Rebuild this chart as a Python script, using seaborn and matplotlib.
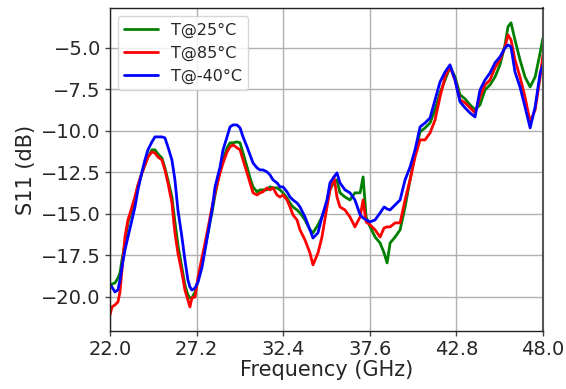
import numpy as np
import pandas as pd
import matplotlib
matplotlib.use("Agg")
import matplotlib.pyplot as plt
import seaborn as sns

freq = [22.00, 22.12, 22.30, 22.48, 22.60, 22.72, 22.90, 23.08, 23.32, 23.50,
        23.68, 23.92, 24.10, 24.28, 24.52, 24.70, 24.88, 25.12, 25.30, 25.48,
        25.72, 25.90, 26.08, 26.32, 26.50, 26.68, 26.80, 26.92, 27.11, 27.29,
        27.53, 27.71, 27.89, 28.13, 28.31, 28.61, 28.79, 29.03, 29.21, 29.39,
        29.63, 29.81, 29.99, 30.23, 30.41, 30.59, 30.83, 31.01, 31.19, 31.43,
        31.61, 31.79, 32.03, 32.21, 32.39, 32.63, 32.81, 32.99, 33.23, 33.41,
        33.71, 34.01, 34.19, 34.49, 34.73, 35.03, 35.21, 35.45, 35.63, 35.81,
        36.11, 36.41, 36.71, 37.02, 37.20, 37.38, 37.62, 37.92, 38.22, 38.46,
        38.64, 38.82, 39.12, 39.42, 39.72, 40.02, 40.32, 40.62, 40.92, 41.22,
        41.52, 41.82, 42.12, 42.42, 42.72, 43.02, 43.32, 43.62, 43.92, 44.22,
        44.52, 44.82, 45.12, 45.42, 45.72, 45.90, 46.08, 46.32, 46.62, 46.92,
        47.23, 47.53, 47.83, 48.00]

s11_25 = [-19.46, -19.22, -19.16, -18.86, -18.55, -17.77, -16.75, -15.54, -14.76, -14.04,
          -13.31, -12.53, -12.05, -11.57, -11.14, -11.14, -11.39, -11.63, -12.23, -12.95,
          -13.98, -15.48, -16.87, -18.25, -19.28, -19.88, -20.06, -20.06, -19.70, -18.98,
          -17.89, -16.99, -16.08, -14.88, -13.86, -12.35, -11.75, -11.02, -10.72, -10.72,
          -10.66, -10.72, -11.33, -12.17, -12.83, -13.37, -13.67, -13.55, -13.55, -13.55,
          -13.37, -13.43, -13.43, -13.55, -13.73, -14.04, -14.34, -14.58, -14.76, -14.94,
          -15.36, -15.96, -16.14, -15.66, -15.18, -14.34, -13.55, -13.07, -12.95, -13.73,
          -13.98, -14.16, -13.73, -13.73, -12.77, -15.18, -15.78, -16.39, -16.75, -17.35,
          -17.95, -16.75, -16.39, -15.96, -14.58, -12.95, -11.33, -10.06, -9.82, -9.52,
          -8.73, -7.71, -6.93, -6.14, -6.75, -7.83, -8.07, -8.43, -8.73, -8.43,
          -7.53, -7.23, -6.75, -6.02, -4.82, -3.73, -3.49, -4.52, -5.72, -6.75,
          -7.35, -6.75, -5.30, -4.40]

s11_85 = [-21.08, -20.60, -20.48, -20.30, -19.70, -18.37, -16.39, -15.36, -14.58, -13.98,
          -13.25, -12.53, -12.05, -11.57, -11.27, -11.33, -11.57, -11.75, -12.35, -13.13,
          -14.34, -16.14, -17.35, -18.55, -19.58, -20.18, -20.60, -20.06, -20.00, -18.80,
          -17.59, -16.75, -15.84, -14.58, -13.73, -12.53, -11.93, -11.27, -10.96, -10.84,
          -11.02, -11.14, -11.75, -12.53, -13.13, -13.73, -13.86, -13.73, -13.67, -13.43,
          -13.55, -13.43, -13.86, -13.98, -13.86, -14.16, -14.58, -15.06, -15.36, -15.96,
          -16.57, -17.35, -18.07, -17.35, -16.39, -14.58, -13.55, -12.77, -13.98, -14.58,
          -14.76, -15.18, -15.78, -15.18, -14.16, -15.48, -15.66, -15.96, -16.39, -15.84,
          -15.78, -15.78, -15.54, -15.54, -14.16, -12.95, -11.57, -10.54, -10.54, -10.12,
          -9.34, -7.95, -6.75, -6.14, -6.93, -8.13, -8.31, -8.61, -8.92, -7.95,
          -7.23, -6.93, -6.20, -5.72, -4.94, -4.22, -4.52, -5.72, -6.75, -7.95,
          -9.46, -8.73, -6.75, -5.42]

s11_m40 = [-19.28, -19.40, -19.70, -19.58, -18.98, -18.19, -17.17, -16.39, -15.36, -14.58,
           -13.55, -12.47, -11.75, -11.14, -10.66, -10.36, -10.36, -10.36, -10.42, -10.96,
           -11.75, -12.95, -14.76, -16.39, -17.77, -18.98, -19.40, -19.58, -19.46, -19.10,
           -18.19, -17.17, -16.14, -14.76, -13.37, -12.17, -11.14, -10.36, -9.76, -9.64,
           -9.64, -9.82, -10.36, -10.96, -11.45, -11.93, -12.23, -12.35, -12.35, -12.47,
           -12.65, -12.95, -13.13, -13.37, -13.37, -13.67, -13.98, -14.16, -14.34, -14.58,
           -15.18, -15.96, -16.45, -16.14, -15.18, -14.16, -13.13, -12.77, -12.53, -13.13,
           -13.55, -13.73, -14.16, -15.06, -15.24, -15.36, -15.48, -15.36, -14.94, -14.58,
           -14.70, -14.76, -14.46, -14.16, -12.95, -12.17, -11.14, -9.76, -9.52, -9.22,
           -8.13, -7.05, -6.45, -6.02, -6.93, -8.25, -8.61, -8.92, -9.16, -7.53,
           -6.93, -6.51, -5.90, -5.54, -5.00, -4.82, -4.94, -6.45, -7.35, -8.55,
           -9.82, -8.55, -6.51, -6.02]

labels = ["T@25°C", "T@85°C", "T@-40°C"]
colors = ["green", "red", "blue"]
xticks = [22.0, 27.2, 32.4, 37.6, 42.8, 48.0]
yticks = [-20.0, -17.5, -15.0, -12.5, -10.0, -7.5, -5.0]

df = pd.concat([
    pd.DataFrame({"Frequency": freq, "S11": vals, "T": lab})
    for vals, lab in zip([s11_25, s11_85, s11_m40], labels)
])

sns.set_style("whitegrid", {"grid.color": "#b0b0b0", "axes.edgecolor": "black",
                            "xtick.bottom": True, "ytick.left": True})
plt.rcParams["font.family"] = ["DejaVu Sans"]

fig = plt.figure(figsize=(5.66, 3.89), dpi=100)
ax = fig.add_axes([0.1943, 0.1491, 0.7650, 0.8303])
sns.lineplot(data=df, x="Frequency", y="S11", hue="T", palette=colors,
             hue_order=labels, linewidth=2.0, ax=ax, sort=False)

ax.set_xlim(22.0, 48.0)
ax.set_ylim(-22.05, -2.6)
ax.set_xticks(xticks)
ax.set_xticklabels([f"{t:.1f}" for t in xticks])
ax.set_yticks(yticks)
ax.tick_params(labelsize=14, length=3.5, width=1, color="#444444", pad=3)
ax.set_xlabel("Frequency (GHz)", fontsize=15, labelpad=1)
ax.set_ylabel("S11 (dB)", fontsize=15, labelpad=4)
ax.grid(True, color="#b0b0b0", linewidth=1.0)
for s in ax.spines.values():
    s.set_color("#222222")
    s.set_linewidth(1.0)
ax.spines["right"].set_color("#555555")
ax.spines["right"].set_linewidth(1.5)
leg = ax.legend(loc="upper left", fontsize=11.5, frameon=True, title=None,
                handlelength=2.1, labelspacing=0.5)
leg.get_frame().set_edgecolor("#cccccc")
fig.savefig("out.png", dpi=100)
